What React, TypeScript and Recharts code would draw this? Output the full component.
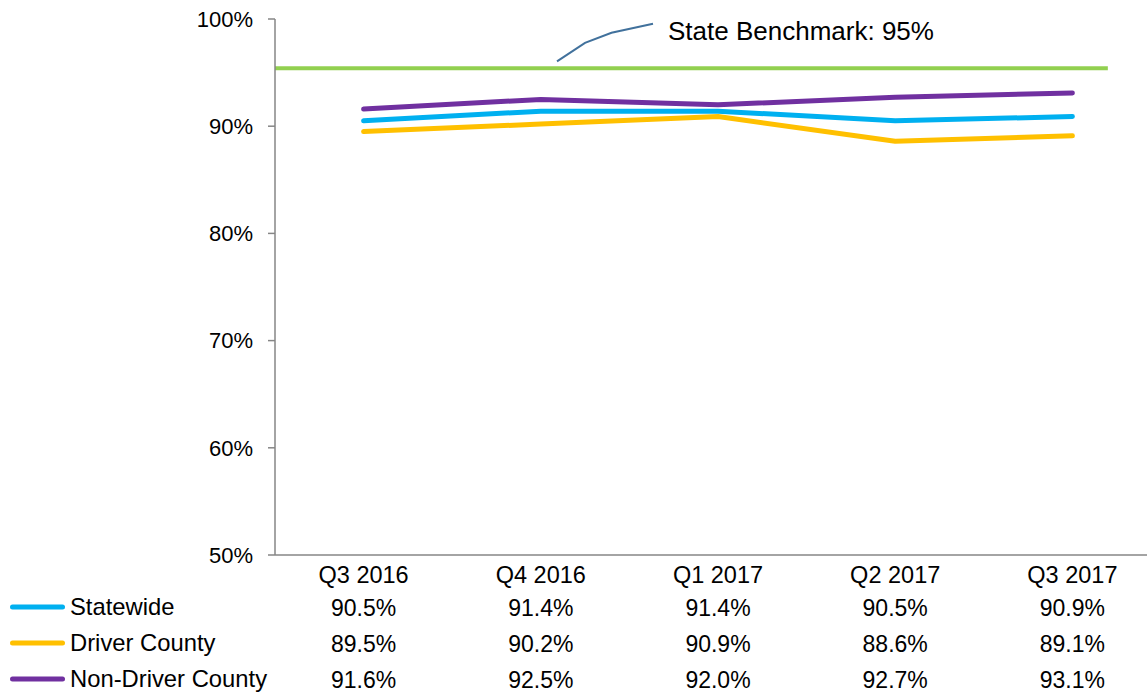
import React from 'react';
import { LineChart, Line, XAxis, YAxis, ReferenceLine, Legend } from 'recharts';

const categories = ['Q3 2016', 'Q4 2016', 'Q1 2017', 'Q2 2017', 'Q3 2017'];
const statewide = [90.5, 91.4, 91.4, 90.5, 90.9];
const driverCounty = [89.5, 90.2, 90.9, 88.6, 89.1];
const nonDriverCounty = [91.6, 92.5, 92.0, 92.7, 93.1];
const benchmarkValue = 95.4;
const benchmarkLabel = 'State Benchmark: 95%';
const yTicks = [50, 60, 70, 80, 90, 100];

const seriesDefs = [
  { key: 'statewide', name: 'Statewide', values: statewide, color: '#00B0F0' },
  { key: 'driver', name: 'Driver County', values: driverCounty, color: '#FFC000' },
  { key: 'nonDriver', name: 'Non-Driver County', values: nonDriverCounty, color: '#7030A0' },
];

const data = categories.map((c, i) => {
  const row: Record<string, any> = { category: c };
  seriesDefs.forEach((s) => {
    row[s.key] = s.values[i];
  });
  return row;
});

const FONT = '"Liberation Sans", Arial, Helvetica, sans-serif';
const AXIS = '#868686';

const fmt = (v: number) => `${v.toFixed(1)}%`;

const TableTick = (props: any) => {
  const { x, y, payload } = props;
  const idx = categories.indexOf(payload.value);
  return (
    <g fontFamily={FONT} fill="#000">
      <text x={x} y={y + 28} textAnchor="middle" fill="#000" fontSize={23.5}>
        {payload.value}
      </text>
      {seriesDefs.map((s, k) => (
        <text key={s.key} x={x} y={y + 61 + 36 * k} textAnchor="middle" fill="#000" fontSize={23}>
          {fmt(s.values[idx])}
        </text>
      ))}
    </g>
  );
};

const BenchmarkShape = (props: any) => {
  const { x1, y1, x2 } = props;
  const end = x1 + (x2 - x1) * 0.94;
  const lx = x1 + 282;
  const leader = [
    [lx, y1 - 7],
    [lx + 28, y1 - 25.5],
    [lx + 54.5, y1 - 35.5],
    [lx + 96, y1 - 44.5],
  ]
    .map((p, i) => `${i === 0 ? 'M' : 'L'}${p[0]},${p[1]}`)
    .join(' ');
  return (
    <g>
      <line x1={x1} y1={y1} x2={end} y2={y1} stroke="#92D050" strokeWidth={4} />
      <path d={leader} stroke="#41719C" strokeWidth={2} fill="none" />
      <text x={lx + 111} y={y1 - 28} fontFamily={FONT} fontSize={26} fill="#000">
        {benchmarkLabel}
      </text>
    </g>
  );
};

const LegendContent = (props: any) => {
  const payload: any[] = props.payload || [];
  const ordered = seriesDefs.map(
    (s) => payload.find((p: any) => p.value === s.name) || { value: s.name, color: s.color }
  );
  return (
    <div style={{ fontFamily: FONT, fontSize: 23.8, color: '#000' }}>
      {ordered.map((entry: any) => (
        <div key={entry.value} style={{ display: 'flex', alignItems: 'center', height: 36 }}>
          <svg width={70} height={36} style={{ display: 'block' }}>
            <line x1={12.5} y1={18} x2={62.5} y2={18} stroke={entry.color} strokeWidth={5} strokeLinecap="round" />
          </svg>
          <span style={{ whiteSpace: 'nowrap', lineHeight: '36px' }}>{entry.value}</span>
        </div>
      ))}
    </div>
  );
};

export default function App() {
  return (
    <div
      style={{
        position: 'absolute',
        left: 0,
        top: 0,
        width: 1147,
        height: 692,
        overflow: 'hidden',
        background: '#fff',
      }}
    >
      <LineChart width={1161} height={692} data={data} margin={{ top: 19, right: 0, left: 0, bottom: 0 }}>
        <YAxis
          type="number"
          domain={[50, 100]}
          ticks={yTicks}
          interval={0}
          width={275}
          tickFormatter={(v: number) => `${v}%`}
          axisLine={{ stroke: AXIS, strokeWidth: 1.5 }}
          tickLine={{ stroke: AXIS, strokeWidth: 1.5 }}
          tickSize={7}
          tickMargin={15}
          tick={{ fill: '#000', fontSize: 22, fontFamily: FONT }}
        />
        <XAxis
          dataKey="category"
          scale="band"
          height={137}
          interval={0}
          axisLine={{ stroke: AXIS, strokeWidth: 1.5 }}
          tickLine={false}
          tickSize={0}
          tickMargin={0}
          tick={<TableTick />}
        />
        <ReferenceLine y={benchmarkValue} shape={<BenchmarkShape />} ifOverflow="visible" />
        {seriesDefs.map((s) => (
          <Line
            key={s.key}
            type="linear"
            dataKey={s.key}
            name={s.name}
            stroke={s.color}
            strokeWidth={5}
            strokeLinecap="round"
            strokeLinejoin="round"
            dot={false}
            activeDot={false}
            isAnimationActive={false}
          />
        ))}
        <Legend
          layout="vertical"
          align="center"
          verticalAlign="middle"
          wrapperStyle={{ left: 0, top: 589, width: 320 }}
          content={<LegendContent />}
        />
      </LineChart>
    </div>
  );
}
